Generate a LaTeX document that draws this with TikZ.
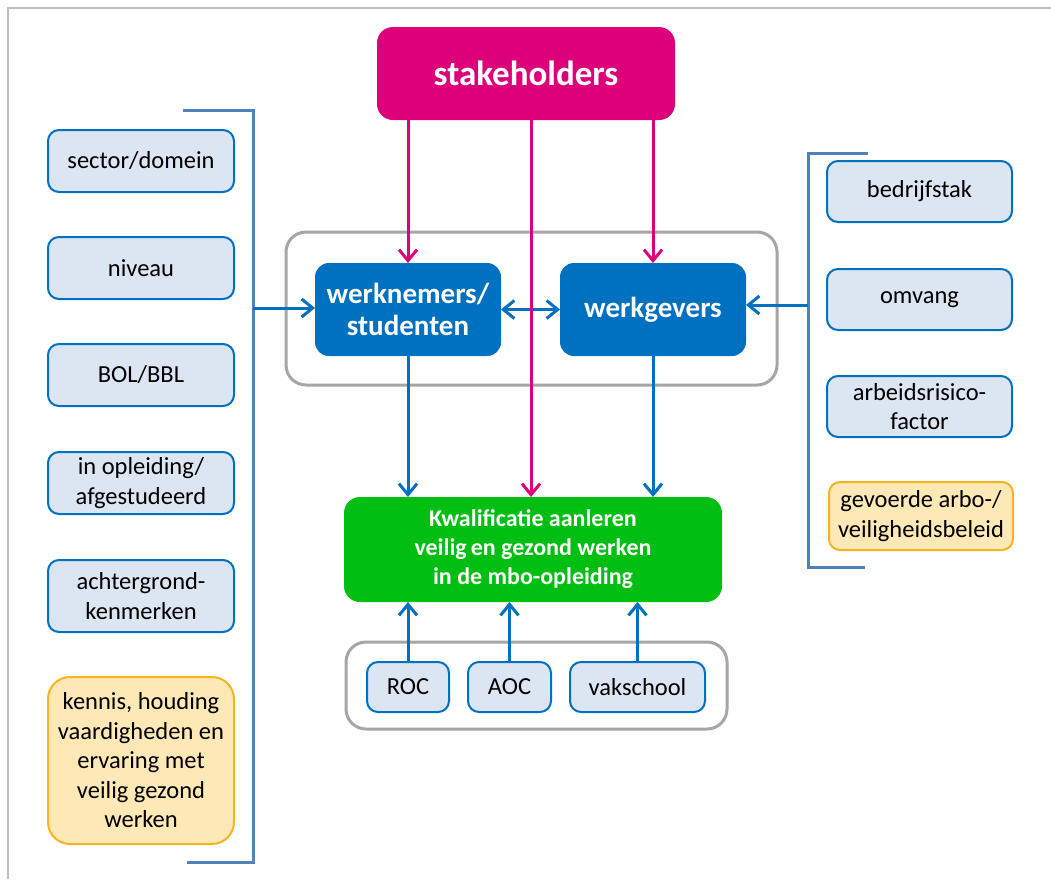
\documentclass[tikz,border=0pt]{standalone}
\usepackage{fontspec}
\setmainfont{Carlito}
\usetikzlibrary{arrows.meta,calc}
\definecolor{magentaC}{HTML}{DC007A}
\definecolor{dblue}{HTML}{0070C0}
\definecolor{greenC}{HTML}{00BE12}
\definecolor{lblue}{HTML}{DCE6F2}
\definecolor{ofill}{HTML}{FDE8B6}
\definecolor{oline}{HTML}{F7B422}
\definecolor{grayC}{HTML}{A6A6A6}
\definecolor{frameC}{HTML}{BFBFBF}
\definecolor{brC}{HTML}{4F81BD}
\newcommand\bodyfs{\fontsize{24.5}{29.5}\selectfont}
\newcommand\midfs{\fontsize{29}{32}\selectfont\bfseries}
\newcommand\kwfs{\fontsize{24}{29}\selectfont\bfseries}
\begin{document}
\begin{tikzpicture}[x=1pt,y=-1pt,
  base/.style={inner sep=0pt,outer sep=0pt,align=center},
  lbox/.style={base,draw=dblue,fill=lblue,line width=2pt,rounded corners=11pt,font=\bodyfs},
  obox/.style={base,draw=oline,fill=ofill,line width=2pt,rounded corners=11pt,font=\bodyfs},
  bbox/.style={base,fill=dblue,text=white,rounded corners=14pt,font=\midfs},
  gbox/.style={draw=grayC,line width=3pt,rounded corners=20pt},
  tip/.style={-{Straight Barb[length=11pt,width=18pt,line width=3pt]}},
  marr/.style={tip,draw=magentaC,line width=3pt},
  barr/.style={tip,draw=dblue,line width=3pt},
  darr/.style={{Straight Barb[length=11pt,width=18pt,line width=3pt]}-{Straight Barb[length=11pt,width=18pt,line width=3pt]},draw=dblue,line width=3pt},
  brk/.style={draw=brC,line width=3pt}
]
\useasboundingbox (0,0) rectangle (1051,879);
\fill[white] (0,0) rectangle (1051,879);
% frame
\draw[frameC,line width=2.5pt] (8,879) -- (8,8) -- (1051,8);

% gray containers
\draw[gbox] (286,232) rectangle (777,385);
\draw[gbox] (346,642) rectangle (727,729);

% stakeholders
\node[base,fill=magentaC,text=white,rounded corners=16pt,minimum width=298pt,minimum height=93pt,font=\fontsize{35}{40}\selectfont\bfseries] (stake) at (526,73.5) {stakeholders};

% middle boxes
\node[bbox,minimum width=186pt,minimum height=93pt] (wn) at (408,309.5) {werknemers/\\studenten};
\node[bbox,minimum width=186pt,minimum height=93pt] (wg) at (653,309.5) {werkgevers};

% green box
\node[base,fill=greenC,text=white,rounded corners=16pt,minimum width=378pt,minimum height=105pt,font=\kwfs] (kw) at (533,549.5) {Kwalificatie aanleren\\veilig\,en gezond werken\\in de mbo-opleiding};

% bottom boxes
\node[lbox,minimum width=82pt,minimum height=50pt] (roc) at (408,687) {ROC};
\node[lbox,minimum width=83pt,minimum height=50pt] (aoc) at (509.5,687) {AOC};
\node[lbox,minimum width=135pt,minimum height=50pt] (vak) at (637.5,687) {vakschool};

% left boxes
\node[lbox,minimum width=186pt,minimum height=62pt] (l1) at (141,161) {sector/domein};
\node[lbox,minimum width=186pt,minimum height=62pt] (l2) at (141,268) {niveau};
\node[lbox,minimum width=186pt,minimum height=62pt] (l3) at (141,375) {BOL/BBL};
\node[lbox,minimum width=186pt,minimum height=62pt] (l4) at (141,483) {in opleiding/\\afgestudeerd};
\node[lbox,minimum width=186pt,minimum height=72pt] (l5) at (141,596) {achtergrond-\\kenmerken};
\node[obox,minimum width=186pt,minimum height=167pt,rounded corners=22pt] (l6) at (141,760.5) {kennis, houding\\vaardigheden en\\ervaring met\\veilig gezond\\werken};

% right boxes
\node[lbox,minimum width=185pt,minimum height=61pt] (r1) at (919.5,191.5) {bedrijfstak};
\node[lbox,minimum width=185pt,minimum height=61pt] (r2) at (919.5,299.5) {omvang};
\node[lbox,minimum width=185pt,minimum height=61pt] (r3) at (919.5,406.5) {arbeidsrisico-\\factor};
\node[obox,minimum width=184pt,minimum height=68pt] (r4) at (921,516) {gevoerde arbo-/\\veiligheidsbeleid};

% brackets
\coordinate (lbt) at (253,110);
\coordinate (lbb) at (253,862);
\coordinate (lbm) at (253,308);
\draw[brk] (183,110) -- (lbt) -- (lbb) -- (187,862);
\coordinate (rbt) at (808,153);
\coordinate (rbb) at (808,567);
\coordinate (rbm) at (808,305);
\draw[brk] (868,153) -- (rbt) -- (rbb) -- (865,567);

% arrows
\draw[barr] (lbm) -- (lbm -| wn.west);
\draw[barr] (rbm) -- (rbm -| wg.east);
\draw[darr] (wn.east) -- (wg.west);
\draw[marr] (stake.south -| wn.north) -- (wn.north);
\draw[marr] (stake.south -| wg.north) -- (wg.north);
\draw[marr] ($(stake.south -| kw.north)+(-2,0)$) -- ($(kw.north)+(-2,0)$);
\draw[barr] (wn.south) -- (kw.north -| wn.south);
\draw[barr] (wg.south) -- (kw.north -| wg.south);
\draw[barr] (roc.north) -- (kw.south -| roc.north);
\draw[barr] (aoc.north) -- (kw.south -| aoc.north);
\draw[barr] (vak.north) -- (kw.south -| vak.north);
\end{tikzpicture}
\end{document}
